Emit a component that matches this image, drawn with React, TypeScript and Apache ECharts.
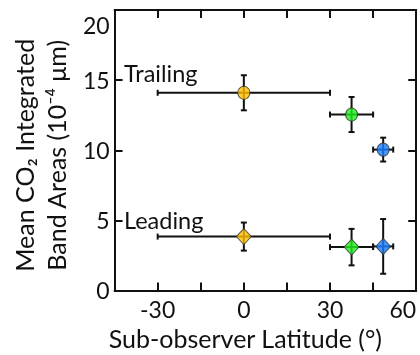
import React, { useEffect, useRef } from "react";
import * as echarts from "echarts";

const FONT = "Lato";
const BLACK = "#111";

// Trailing hemisphere (circles)
const trailingX = [0, 37.5, 48.5];
const trailingY = [14.1, 12.55, 10.05];
const trailingXErr = [30, 7.5, 3.5];
const trailingYErr = [1.25, 1.25, 0.85];

// Leading hemisphere (diamonds)
const leadingX = [0, 37.5, 48.5];
const leadingY = [3.85, 3.1, 3.15];
const leadingXErr = [30, 7.5, 3.5];
const leadingYErr = [1.0, 1.3, 1.95];

const pointColors = ["#FFC000", "#1EF01E", "#1A80FF"];

const xTickLabels = [-30, 0, 30, 60];
const yTickLabels = [0, 5, 10, 15, 20];

function buildErr(xs: number[], ys: number[], xe: number[], ye: number[]) {
  return xs.map((x, i) => [x, ys[i], xe[i], ye[i]]);
}

const errRender = (params: any, api: any) => {
  const x = api.value(0);
  const y = api.value(1);
  const xe = api.value(2);
  const ye = api.value(3);
  const c = api.coord([x, y]);
  const l = api.coord([x - xe, y]);
  const r = api.coord([x + xe, y]);
  const t = api.coord([x, y + ye]);
  const b = api.coord([x, y - ye]);
  const cap = 3;
  const st = { stroke: BLACK, lineWidth: 2 };
  return {
    type: "group",
    children: [
      { type: "line", shape: { x1: l[0], y1: c[1], x2: r[0], y2: c[1] }, style: st },
      { type: "line", shape: { x1: l[0], y1: c[1] - cap, x2: l[0], y2: c[1] + cap }, style: st },
      { type: "line", shape: { x1: r[0], y1: c[1] - cap, x2: r[0], y2: c[1] + cap }, style: st },
      { type: "line", shape: { x1: c[0], y1: t[1], x2: c[0], y2: b[1] }, style: st },
      { type: "line", shape: { x1: c[0] - cap, y1: t[1], x2: c[0] + cap, y2: t[1] }, style: st },
      { type: "line", shape: { x1: c[0] - cap, y1: b[1], x2: c[0] + cap, y2: b[1] }, style: st },
    ],
  };
};

export default function App() {
  const ref = useRef<HTMLDivElement>(null);
  useEffect(() => {
    if (!ref.current) return;
    const chart = echarts.init(ref.current, undefined, { renderer: "svg" });
    const axisLine = { show: true, onZero: false, lineStyle: { color: BLACK, width: 2 } };
    const axisTick = { show: true, inside: true, length: 8, lineStyle: { color: BLACK, width: 2 } };
    const tickFont = { color: BLACK, fontSize: 23, fontFamily: FONT };
    chart.setOption({
      animation: false,
      textStyle: { fontFamily: FONT },
      grid: { left: 104, top: 10, right: 2, bottom: 53, containLabel: false },
      xAxis: [
        {
          type: "value",
          min: -45,
          max: 60,
          interval: 15,
          axisLine,
          axisTick,
          splitLine: { show: false },
          axisLabel: {
            ...tickFont,
            lineHeight: 22,
            margin: 7,
            alignMaxLabel: "right",
            formatter: (v: number) => (xTickLabels.includes(v) ? String(v) : ""),
          },
          name: "Sub-observer Latitude (°)",
          nameLocation: "middle",
          nameGap: 34,
          nameTextStyle: {
            color: BLACK,
            fontSize: 25,
            fontFamily: FONT,
            lineHeight: 25,
            padding: [0, 40, 0, 0],
          },
        },
        {
          type: "value",
          position: "top",
          min: -45,
          max: 60,
          interval: 15,
          axisLine,
          axisTick,
          axisLabel: { show: false },
          splitLine: { show: false },
        },
      ],
      yAxis: [
        {
          type: "value",
          min: 0,
          max: 20,
          interval: 5,
          axisLine,
          axisTick,
          splitLine: { show: false },
          axisLabel: {
            ...tickFont,
            margin: 5,
            verticalAlign: "middle",
            formatter: (v: number) =>
              v === 20 ? "{top|20}" : v === 0 ? "{bot|0}" : yTickLabels.includes(v) ? String(v) : "",
            rich: {
              top: { ...tickFont, padding: [29, 0, 0, 0] },
              bot: { ...tickFont, padding: [0, 0, 1, 0] },
            },
          },
          name: "Mean CO₂ Integrated\nBand Areas (10⁻⁴ μm)",
          nameLocation: "middle",
          nameGap: 39,
          nameTextStyle: {
            color: BLACK,
            fontSize: 25,
            fontFamily: FONT,
            lineHeight: 32,
            padding: [0, 10, 0, 0],
          },
        },
        {
          type: "value",
          position: "right",
          min: 0,
          max: 20,
          interval: 5,
          axisLine,
          axisTick,
          axisLabel: { show: false },
          splitLine: { show: false },
        },
      ],
      graphic: [
        { type: "text", left: 124, top: 61, style: { text: "Trailing", fontSize: 23.5, fontFamily: FONT, fill: BLACK } },
        { type: "text", left: 124, top: 208, style: { text: "Leading", fontSize: 23.5, fontFamily: FONT, fill: BLACK } },
      ],
      series: [
        {
          type: "custom",
          renderItem: errRender,
          data: buildErr(trailingX, trailingY, trailingXErr, trailingYErr),
          z: 1,
        },
        {
          type: "custom",
          renderItem: errRender,
          data: buildErr(leadingX, leadingY, leadingXErr, leadingYErr),
          z: 1,
        },
        {
          type: "scatter",
          symbol: "circle",
          symbolSize: [12, 13],
          z: 3,
          data: trailingX.map((x, i) => ({
            value: [x, trailingY[i]],
            itemStyle: { color: pointColors[i], borderColor: "#333", borderWidth: 1 },
          })),
        },
        {
          type: "scatter",
          symbol: "diamond",
          symbolSize: [15, 16],
          z: 3,
          data: leadingX.map((x, i) => ({
            value: [x, leadingY[i]],
            itemStyle: { color: pointColors[i], borderColor: "#333", borderWidth: 1 },
          })),
        },
      ],
    });
    return () => chart.dispose();
  }, []);
  return <div ref={ref} style={{ position: "fixed", left: 0, top: 0, width: 420, height: 355 }} />;
}
